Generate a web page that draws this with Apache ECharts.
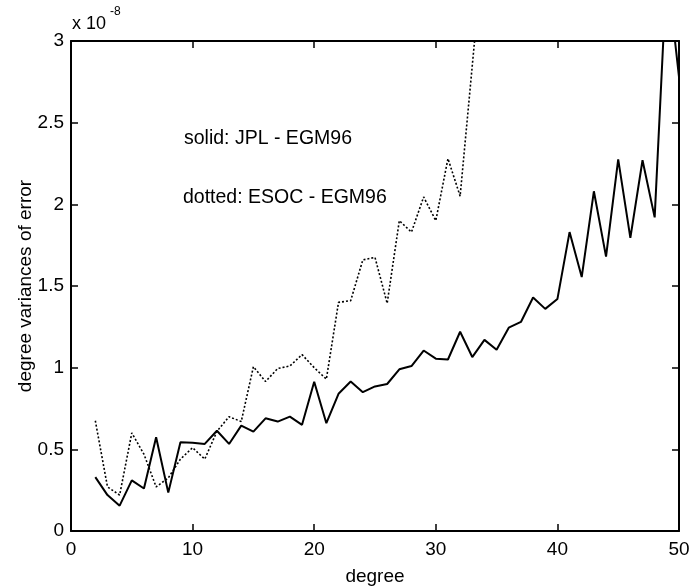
<!DOCTYPE html>
<html>
<head>
<meta charset="utf-8">
<script src="https://cdn.jsdelivr.net/npm/echarts@6/dist/echarts.min.js"></script>
<style>
  html, body { margin: 0; padding: 0; background: #ffffff; }
  #chart { width: 691px; height: 586px; }
</style>
</head>
<body>
<div id="chart"></div>
<script>
// Spherical-harmonic degree of the coefficients
const degreesJPL = [2, 3, 4, 5, 6, 7, 8, 9, 10, 11, 12, 13, 14, 15, 16, 17, 18, 19, 20,
  21, 22, 23, 24, 25, 26, 27, 28, 29, 30, 31, 32, 33, 34, 35, 36, 37, 38, 39, 40,
  41, 42, 43, 44, 45, 46, 47, 48, 49, 50];
const degreesESOC = [2, 3, 4, 5, 6, 7, 8, 9, 10, 11, 12, 13, 14, 15, 16, 17, 18, 19, 20,
  21, 22, 23, 24, 25, 26, 27, 28, 29, 30, 31, 32, 33, 34];

// Degree variances of error, in units of 1e-8
const jplMinusEgm96 = [0.33, 0.22, 0.155, 0.31, 0.26, 0.574, 0.235, 0.543, 0.54, 0.533,
  0.614, 0.533, 0.645, 0.608, 0.69, 0.67, 0.70, 0.65, 0.914, 0.66, 0.84, 0.915, 0.85,
  0.885, 0.90, 0.99, 1.01, 1.105, 1.055, 1.05, 1.22, 1.065, 1.17, 1.11, 1.245, 1.28,
  1.43, 1.36, 1.42, 1.83, 1.555, 2.08, 1.68, 2.275, 1.795, 2.27, 1.92, 3.45, 2.78];
const esocMinusEgm96 = [0.675, 0.27, 0.22, 0.60, 0.47, 0.27, 0.325, 0.44, 0.51, 0.44,
  0.61, 0.70, 0.67, 1.006, 0.915, 0.995, 1.01, 1.08, 1.0, 0.93, 1.40, 1.41, 1.66, 1.675,
  1.394, 1.90, 1.83, 2.045, 1.90, 2.28, 2.05, 2.85, 3.65];

const xTicks = { min: 0, max: 50, step: 10 };
const yTicks = { min: 0, max: 3, step: 0.5 };

const FONT = "'Liberation Sans', Arial, Helvetica, sans-serif";
const ink = '#000000';

function pairs(xs, ys) {
  return xs.map((x, i) => [x, ys[i]]);
}

const boxLine = { show: true, onZero: false, lineStyle: { color: ink, width: 2 } };
const inTick = { show: true, inside: true, length: 7, lineStyle: { color: ink, width: 1.5 } };
const tickLabel = { color: ink, fontSize: 19, fontFamily: FONT };

const chart = echarts.init(document.getElementById('chart'), null, { renderer: 'canvas' });

chart.setOption({
  backgroundColor: '#ffffff',
  animation: false,
  grid: { left: 71, right: 12, top: 41, bottom: 55, containLabel: false, outerBoundsMode: 'none' },
  xAxis: [
    {
      type: 'value', position: 'bottom',
      min: xTicks.min, max: xTicks.max, interval: xTicks.step,
      axisLine: boxLine, axisTick: inTick,
      axisLabel: Object.assign({ margin: 9 }, tickLabel),
      splitLine: { show: false },
      name: 'degree', nameLocation: 'middle', nameGap: 36, nameMoveOverlap: false,
      nameTextStyle: { color: ink, fontSize: 19, fontFamily: FONT }
    },
    {
      type: 'value', position: 'top',
      min: xTicks.min, max: xTicks.max, interval: xTicks.step,
      axisLine: boxLine, axisTick: inTick,
      axisLabel: { show: false }, splitLine: { show: false }
    }
  ],
  yAxis: [
    {
      type: 'value', position: 'left',
      min: yTicks.min, max: yTicks.max, interval: yTicks.step,
      axisLine: boxLine, axisTick: inTick,
      axisLabel: Object.assign({ margin: 7 }, tickLabel),
      splitLine: { show: false },
      name: 'degree variances of error', nameLocation: 'middle', nameGap: 36,
      nameMoveOverlap: false,
      nameTextStyle: { color: ink, fontSize: 19, fontFamily: FONT }
    },
    {
      type: 'value', position: 'right',
      min: yTicks.min, max: yTicks.max, interval: yTicks.step,
      axisLine: boxLine, axisTick: inTick,
      axisLabel: { show: false }, splitLine: { show: false }
    }
  ],
  graphic: [
    {
      type: 'text', left: 72, top: 15,
      style: { text: 'x 10', fill: ink, fontSize: 18, fontFamily: FONT }
    },
    {
      type: 'text', left: 110, top: 6,
      style: { text: '-8', fill: ink, fontSize: 12, fontFamily: FONT }
    },
    {
      type: 'text', left: 184, top: 129,
      style: { text: 'solid: JPL - EGM96', fill: ink, fontSize: 19.5, fontFamily: FONT }
    },
    {
      type: 'text', left: 183, top: 188,
      style: { text: 'dotted: ESOC - EGM96', fill: ink, fontSize: 19.5, fontFamily: FONT }
    }
  ],
  series: [
    {
      name: 'JPL - EGM96', type: 'line',
      xAxisIndex: 0, yAxisIndex: 0,
      data: pairs(degreesJPL, jplMinusEgm96),
      showSymbol: false, clip: true,
      lineStyle: { color: ink, width: 2, type: 'solid' }
    },
    {
      name: 'ESOC - EGM96', type: 'line',
      xAxisIndex: 0, yAxisIndex: 0,
      data: pairs(degreesESOC, esocMinusEgm96),
      showSymbol: false, clip: true,
      lineStyle: { color: ink, width: 1.6, type: [2, 2] }
    }
  ]
});
</script>
</body>
</html>
